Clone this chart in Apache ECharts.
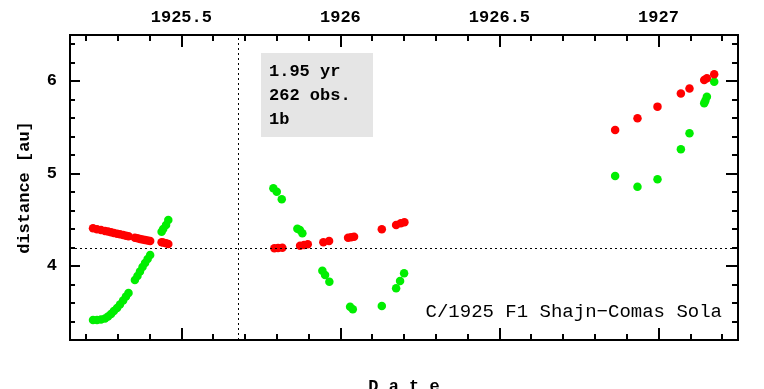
<!DOCTYPE html>
<html>
<head>
<meta charset="utf-8">
<script src="https://cdn.jsdelivr.net/npm/echarts@6/dist/echarts.min.js"></script>
<style>html,body{margin:0;padding:0;background:#fff;}#c{width:764px;height:389px;}</style>
</head>
<body>
<div id="c"></div>
<script>
// Heliocentric distance (red) observations: date [yr], distance [au]
const redDates = [1925.2223,1925.2349,1925.2475,1925.2600,1925.2695,1925.2790,1925.2880,1925.2980,1925.3070,1925.3170,1925.3260,1925.3340,
  1925.3540,1925.3620,1925.3700,1925.3780,1925.3860,1925.3940,1925.4020,
  1925.4380,1925.4430,1925.4520,1925.4590,
  1925.7925,1925.8040,1925.8176,1925.8733,1925.8858,1925.8975,1925.9465,1925.9645,1926.0242,1926.0336,1926.0430,
  1926.1302,1926.1752,1926.1900,1926.2013,
  1926.8638,1926.9340,1926.9969,1927.0704,1927.0975,1927.1437,1927.1522,1927.1752];
const redValues = [4.409,4.399,4.390,4.380,4.373,4.366,4.358,4.350,4.344,4.336,4.329,4.323,
  4.307,4.300,4.294,4.288,4.282,4.276,4.271,
  4.257,4.254,4.247,4.239,
  4.192,4.196,4.199,4.221,4.228,4.236,4.257,4.271,4.307,4.311,4.318,
  4.398,4.445,4.463,4.474,
  5.473,5.599,5.725,5.866,5.920,6.014,6.032,6.076];
// Geocentric distance (green) observations
const greenDates = [1925.2223,1925.2349,1925.2475,1925.2600,1925.2695,1925.2790,1925.2880,1925.2980,1925.3070,1925.3170,1925.3260,1925.3340,
  1925.3540,1925.3620,1925.3700,1925.3780,1925.3860,1925.3940,1925.4020,
  1925.4380,1925.4430,1925.4520,1925.4590,
  1925.7893,1925.8000,1925.8157,1925.8648,1925.8727,1925.8805,1925.9434,1925.9519,1925.9654,1926.0305,1926.0390,
  1926.1302,1926.1752,1926.1877,1926.2003,
  1926.8638,1926.9340,1926.9969,1927.0704,1927.0975,1927.1437,1927.1475,1927.1522,1927.1752];
const greenValues = [3.416,3.416,3.422,3.433,3.454,3.481,3.514,3.546,3.584,3.627,3.671,3.709,
  3.849,3.893,3.941,3.990,4.033,4.077,4.120,
  4.372,4.401,4.445,4.499,
  4.842,4.805,4.723,4.404,4.390,4.355,3.950,3.903,3.831,3.560,3.532,
  3.568,3.760,3.839,3.922,
  4.975,4.859,4.939,5.264,5.437,5.762,5.790,5.833,5.995];

const xMajorTicks = [1925.5, 1926, 1926.5, 1927];
const xMinorTicks = [1925.2,1925.3,1925.4,1925.6,1925.7,1925.8,1925.9,1926.1,1926.2,1926.3,1926.4,1926.6,1926.7,1926.8,1926.9,1927.1,1927.2];
const yMajorTicks = [4, 5, 6];
const yMinorTicks = [3.4,3.6,3.8,4.2,4.4,4.6,4.8,5.2,5.4,5.6,5.8,6.2,6.4];

const perihelionDate = 1925.685;
const perihelionDistance = 4.19;

const infoLines = ['1.95 yr', '262 obs.', '1b'];
const cometName = 'C/1925 F1 Shajn\u2212Comas Sola';

const X_MIN = 1925.15, X_MAX = 1927.25, Y_MIN = 3.2, Y_MAX = 6.5;
const FONT = 'Liberation Mono';
const lineStyle = {color: '#000', width: 2};
const fmt = v => String(Math.round(v * 10) / 10);

function xAx(pos, ticks, len, labels, extra) {
  return Object.assign({
    type: 'value', position: pos, min: X_MIN, max: X_MAX,
    axisLine: {show: true, onZero: false, lineStyle: lineStyle},
    axisTick: {show: true, inside: true, length: len, customValues: ticks, lineStyle: {color: '#000', width: 2}},
    axisLabel: labels ? {show: true, customValues: ticks, formatter: fmt, margin: 9, color: '#000', fontFamily: FONT, fontWeight: 'bold', fontSize: 17} : {show: false},
    splitLine: {show: false}
  }, extra || {});
}
function yAx(pos, ticks, len, labels, extra) {
  return Object.assign({
    type: 'value', position: pos, min: Y_MIN, max: Y_MAX,
    axisLine: {show: true, onZero: false, lineStyle: lineStyle},
    axisTick: {show: true, inside: true, length: len, customValues: ticks, lineStyle: {color: '#000', width: 2}},
    axisLabel: labels ? {show: true, customValues: ticks, formatter: fmt, margin: 13, color: '#000', fontFamily: FONT, fontWeight: 'bold', fontSize: 17} : {show: false},
    splitLine: {show: false}
  }, extra || {});
}

const chart = echarts.init(document.getElementById('c'), null, {renderer: 'canvas'});
chart.setOption({
  animation: false,
  backgroundColor: '#fff',
  grid: {left: 70, top: 35, right: 26, bottom: 49, containLabel: false, outerBoundsMode: 'none'},
  xAxis: [
    xAx('top', xMajorTicks, 12, true),
    xAx('top', xMinorTicks, 6, false),
    xAx('bottom', xMajorTicks, 12, false, {name: 'D a t e', nameLocation: 'middle', nameGap: 38,
      nameTextStyle: {color: '#000', fontFamily: FONT, fontWeight: 'bold', fontSize: 17}}),
    xAx('bottom', xMinorTicks, 6, false)
  ],
  yAxis: [
    yAx('left', yMajorTicks, 10, true, {name: 'distance [au]', nameLocation: 'middle', nameGap: 37, nameRotate: 90,
      nameTextStyle: {color: '#000', fontFamily: FONT, fontWeight: 'bold', fontSize: 17}}),
    yAx('left', yMinorTicks, 5, false),
    yAx('right', yMajorTicks, 12, false),
    yAx('right', yMinorTicks, 6, false)
  ],
  series: [
    {
      type: 'scatter', xAxisIndex: 0, yAxisIndex: 0, symbol: 'circle', symbolSize: 8.5,
      itemStyle: {color: '#00ee00', opacity: 1},
      data: greenDates.map((d, i) => [d, greenValues[i]]),
      markLine: {
        silent: true, symbol: 'none', label: {show: false},
        lineStyle: {color: '#000', width: 1, type: [2, 3]},
        data: [{xAxis: perihelionDate}, {yAxis: perihelionDistance}]
      },
      z: 2
    },
    {
      type: 'scatter', xAxisIndex: 0, yAxisIndex: 0, symbol: 'circle', symbolSize: 8.5,
      itemStyle: {color: '#ff0000', opacity: 1},
      data: redDates.map((d, i) => [d, redValues[i]]),
      z: 3
    }
  ],
  graphic: [
    {type: 'rect', left: 261, top: 53, shape: {width: 112, height: 84}, style: {fill: '#e5e5e5'}, z: 1},
    {type: 'text', left: 269, top: 60, z: 5,
      style: {text: infoLines.join('\n'), fill: '#000', font: 'bold 17px "Liberation Mono"', lineHeight: 24}},
    {type: 'text', z: 5, x: 722, y: 312,
      style: {text: cometName, fill: '#000', font: '19px "Liberation Mono"', align: 'right', verticalAlign: 'middle'}}
  ]
});
</script>
</body>
</html>
